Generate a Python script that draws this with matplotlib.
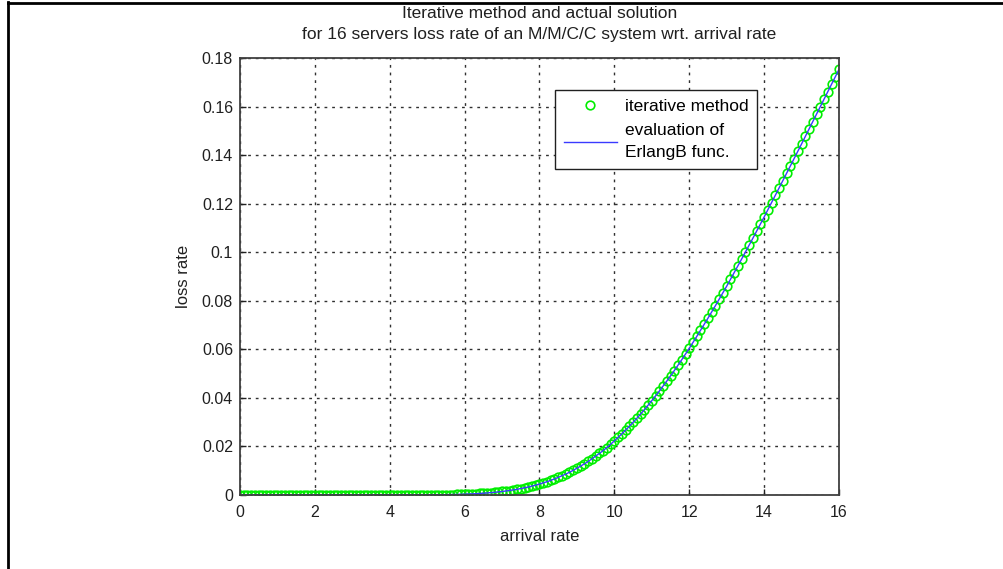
import numpy as np
import matplotlib
matplotlib.use("Agg")
import matplotlib.pyplot as plt
from matplotlib.lines import Line2D

plt.rcParams['font.family'] = ['Liberation Sans', 'DejaVu Sans']

# arrival rate grid 0..16 step 0.1
arrival_rate = np.round(np.linspace(0, 16, 161), 1)

# loss rate (iterative method markers and ErlangB curve coincide)
loss_rate = [
    0.0, 0.0, 0.0, 0.0, 0.0, 0.0, 0.0, 0.0, 0.0, 0.0,
    0.0, 0.0, 0.0, 0.0, 0.0, 0.0, 0.0, 0.0, 0.0, 0.0,
    0.0, 0.0, 0.0, 0.0, 0.0, 0.0, 0.0, 0.0, 0.0, 0.0,
    0.0, 0.0, 0.0, 0.0, 0.0, 0.0, 0.0, 0.0, 0.0, 0.0,
    0.0, 0.0, 0.0, 0.0, 0.0,
    0.00001, 0.00002, 0.00002, 0.00003, 0.00004, 0.00005,
    0.00006, 0.00007, 0.00009, 0.00011, 0.00014, 0.00016, 0.00019, 0.00023, 0.00028, 0.00033,
    0.00039, 0.00046, 0.00053, 0.00062, 0.00073, 0.00084, 0.00096, 0.00110, 0.00126, 0.00145,
    0.00164, 0.00185, 0.00208, 0.00235, 0.00266, 0.00296, 0.00329, 0.00366, 0.00407, 0.00453,
    0.00498, 0.00547, 0.00602, 0.00661, 0.00727, 0.00791, 0.00860, 0.00935, 0.01016, 0.01105,
    0.01190, 0.01282, 0.01381, 0.01488, 0.01603, 0.01712, 0.01829, 0.01954, 0.02087, 0.02230,
    0.02372, 0.02518, 0.02671, 0.02828, 0.02991, 0.03159, 0.03333, 0.03511, 0.03696, 0.03885,
    0.04080, 0.04279, 0.04483, 0.04692, 0.04905, 0.05123, 0.05345, 0.05572, 0.05804, 0.06040,
    0.06283, 0.06529, 0.06778, 0.07029, 0.07284, 0.07541, 0.07802, 0.08065, 0.08331, 0.08600,
    0.08878, 0.09157, 0.09438, 0.09721, 0.10005, 0.10291, 0.10578, 0.10867, 0.11158, 0.11450,
    0.11748, 0.12047, 0.12347, 0.12647, 0.12948, 0.13249, 0.13551, 0.13853, 0.14156, 0.14460,
    0.14767, 0.15074, 0.15381, 0.15688, 0.15995, 0.16302, 0.16609, 0.16916, 0.17223, 0.17530,
]
erlang_b = loss_rate

x_ticks = [0, 2, 4, 6, 8, 10, 12, 14, 16]
y_ticks = [0, 0.02, 0.04, 0.06, 0.08, 0.1, 0.12, 0.14, 0.16, 0.18]
y_tick_labels = ['0', '0.02', '0.04', '0.06', '0.08', '0.1', '0.12', '0.14', '0.16', '0.18']

W, H = 1004, 569
fig = plt.figure(figsize=(W / 100, H / 100), dpi=100)
ax = fig.add_axes([240 / W, 1 - 495 / H, 599 / W, 437 / H])

ax.plot(arrival_rate, loss_rate, linestyle='none', marker='o', markersize=6.2,
        markerfacecolor='none', markeredgecolor='#00ee00', markeredgewidth=1.2,
        label='iterative method')
ax.plot(arrival_rate, erlang_b, color='#3a3aff', linewidth=1.0,
        label='evaluation of\nErlangB func.')

ax.set_xlim(0, 16)
ax.set_ylim(0, 0.18)
ax.set_xticks(x_ticks)
ax.set_xticklabels([str(v) for v in x_ticks])
ax.set_yticks(y_ticks)
ax.set_yticklabels(y_tick_labels)
ax.tick_params(direction='in', length=4, width=1, labelsize=11.5, colors='#202020')
ax.tick_params(axis='x', pad=7)
ax.tick_params(axis='y', pad=5)
ax.grid(True, color='#303030', linestyle=(0, (2, 3.5)), linewidth=1)
for s in ax.spines.values():
    s.set_color('#404040')
    s.set_linewidth(1.3)

ax.set_xlabel('arrival rate', fontsize=12, color='#202020', labelpad=7)
ax.set_ylabel('loss rate', fontsize=12, color='#202020', labelpad=8)
ax.set_title('Iterative method and actual solution\n'
             'for 16 servers loss rate of an M/M/C/C system wrt. arrival rate',
             fontsize=12.5, color='#202020', pad=13.5, linespacing=1.5)

leg = ax.legend(loc='upper left', bbox_to_anchor=(0.526, 0.927), borderaxespad=0,
                fontsize=12.5, frameon=True, fancybox=False, edgecolor='#202020',
                framealpha=1, handlelength=3.05, handletextpad=0.45, borderpad=0.5,
                labelspacing=0.55, numpoints=1)
for t in leg.get_texts():
    t.set_linespacing(1.55)
leg.get_frame().set_linewidth(1.0)

# outer frame lines (left and top) of the screenshot
fig.add_artist(Line2D([8 / W, 8 / W], [0, 1 - 2 / H], color='black', linewidth=2, transform=fig.transFigure))
fig.add_artist(Line2D([8 / W, 1], [1 - 3 / H, 1 - 3 / H], color='black', linewidth=2, transform=fig.transFigure))

fig.savefig('out.png', dpi=100)
